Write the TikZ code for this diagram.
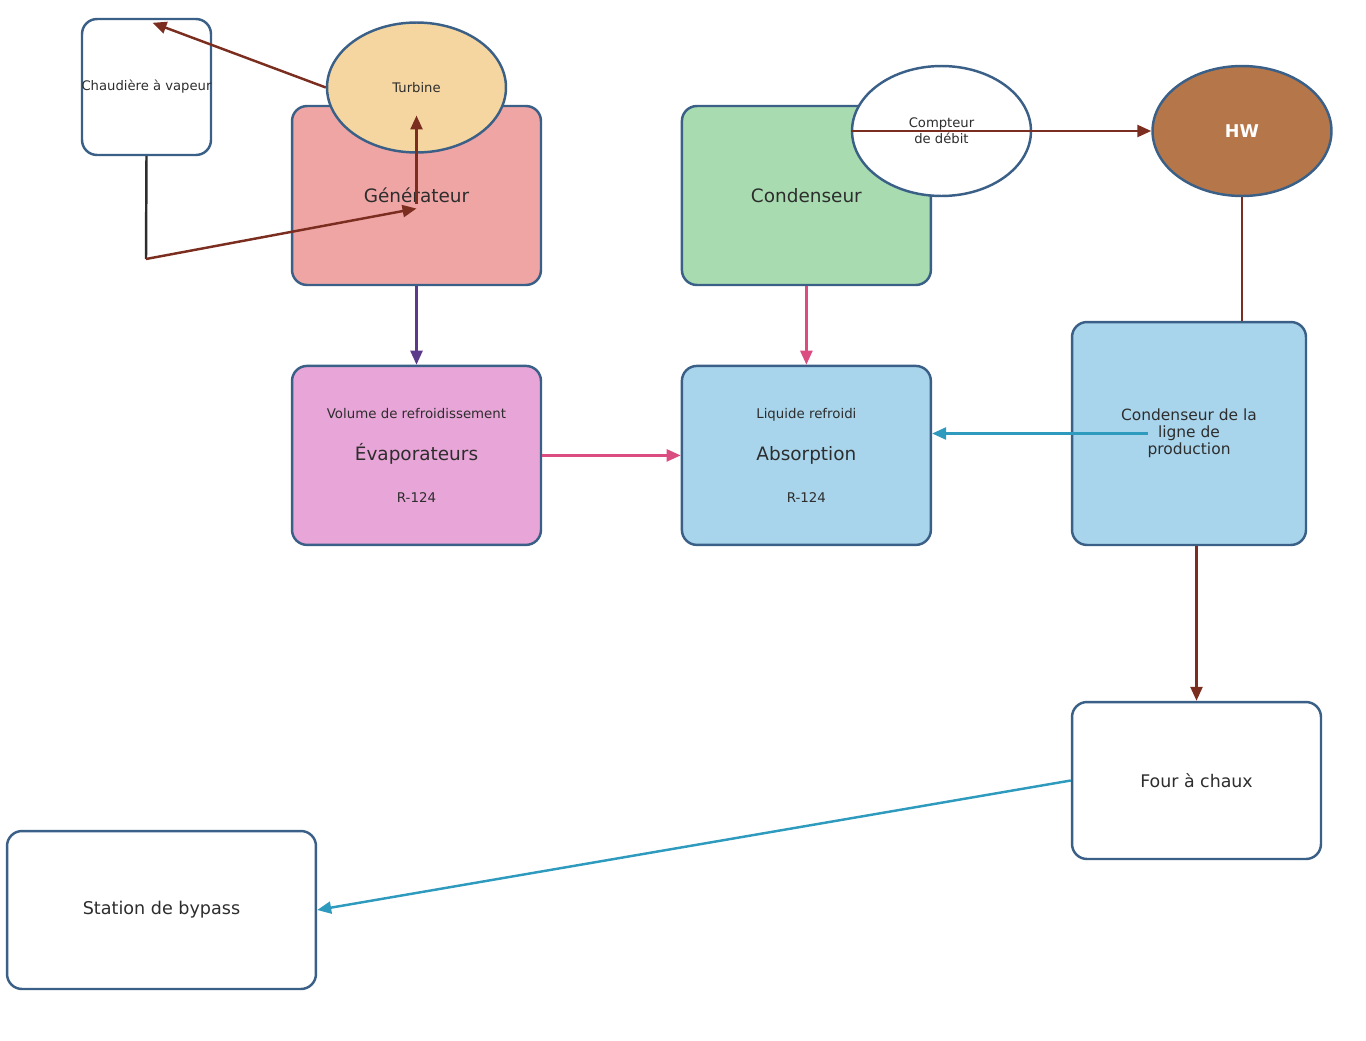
\documentclass[tikz,border=0pt]{standalone}
\usepackage{fontspec}
\setmainfont{DejaVu Sans}
\usetikzlibrary{positioning,arrows.meta,shapes.geometric}
\definecolor{edge}{RGB}{59,96,136}
\definecolor{txt}{RGB}{45,45,45}
\definecolor{steam}{RGB}{123,46,31}
\definecolor{purp}{RGB}{91,58,140}
\definecolor{pinkline}{RGB}{219,77,128}
\definecolor{tealline}{RGB}{46,155,190}
\definecolor{turbfill}{RGB}{245,214,160}
\definecolor{genfill}{RGB}{240,165,165}
\definecolor{condfill}{RGB}{168,220,176}
\definecolor{evapfill}{RGB}{232,165,216}
\definecolor{coolfill}{RGB}{168,213,236}
\definecolor{hwfill}{RGB}{181,118,74}
\newcommand\mainlabel[1]{{\fontsize{10.5}{24}\selectfont #1}}
\tikzset{
  box/.style={draw=edge, rounded corners=3mm, line width=1.4pt, align=center,
              text=txt, inner sep=2pt},
  unit/.style={box, minimum width=4.98cm, minimum height=3.58cm},
  disc/.style={ellipse, draw=edge, line width=1.4pt, align=center, text=txt,
               inner sep=0pt, minimum width=3.58cm, minimum height=2.6cm},
  flow/.style={-{Triangle[length=2.8mm,width=2.4mm]}, line width=1.4pt},
  tiny/.style={font=\fontsize{7.5}{9}\selectfont},
  mid/.style={font=\fontsize{10.5}{12}\selectfont},
  triple/.style={font=\fontsize{7.6}{24}\selectfont},
}

\begin{document}
\begin{tikzpicture}[x=0.02cm, y=-0.02cm]
  \useasboundingbox (0,0) rectangle (1366,1041);

  % top row
  \node[box, minimum width=2.58cm, minimum height=2.72cm, tiny] (ch) at (146.5,87) {\makebox[0pt]{Chaudière à vapeur}};
  \node[unit, fill=genfill, mid] (ge) at (416.5,195.5) {Générateur};
  \node[disc, fill=turbfill, tiny] (tu) at (416.5,87.5) {Turbine};
  \node[unit, fill=condfill, mid, right=2.77cm of ge] (co) {Condenseur};
  \node[disc, fill=white, tiny] (cm) at (941.5,131) {Compteur\\de débit};
  \node[disc, fill=hwfill, text=white, font=\fontsize{10}{12}\selectfont\bfseries] (hw) at (1242,131) {HW};

  % cooling row
  \node[unit, fill=evapfill, triple, below=1.57cm of ge] (ev) {Volume de refroidissement\\\mainlabel{Évaporateurs}\\R-124};
  \node[unit, fill=coolfill, triple, below=1.57cm of co] (ab) {Liquide refroidi\\\mainlabel{Absorption}\\R-124};
  \node[box, fill=coolfill, minimum width=4.68cm, minimum height=4.46cm,
        font=\fontsize{8.8}{9.8}\selectfont] (cl) at (1189,433.5) {Condenseur de la\\ligne de\\production};

  % bottom
  \node[unit, fill=white, minimum height=3.14cm, font=\fontsize{9.9}{11}\selectfont] (fo) at (1196.5,780.5) {Four à chaux};
  \node[box, fill=white, minimum width=6.18cm, minimum height=3.16cm,
        font=\fontsize{10}{12}\selectfont] (st) at (161.5,910) {Station de bypass};

  \coordinate (bend) at (146,259);

  % steam loop
  \draw[flow, steam] (tu.west) -- ([shift={(0.12cm,-0.1cm)}]ch.north);
  \draw[line width=1.4pt, txt] (ch.south) -- (bend);
  \draw[flow, steam] (bend) -- ([yshift=-0.26cm]ge.center);
  \draw[flow, steam] ([yshift=-0.16cm]ge.center) -- ([yshift=-0.56cm]tu.center);
  \draw[flow, steam] (cm.west) -- (hw.west);
  \draw[line width=1.4pt, steam] (hw.south) -- (hw.south |- cl.north);
  \draw[flow, steam] (fo.north |- cl.south) -- (fo.north);

  % refrigerant
  \draw[flow, purp] (ge) -- (ev);
  \draw[flow, pinkline] (co) -- (ab);
  \draw[flow, pinkline] (ev) -- (ab);
  \draw[flow, tealline] ([xshift=-0.82cm]cl.center) -- (cl.center -| ab.east);
  \draw[flow, tealline] (fo.west) -- (st.east);
\end{tikzpicture}
\end{document}
